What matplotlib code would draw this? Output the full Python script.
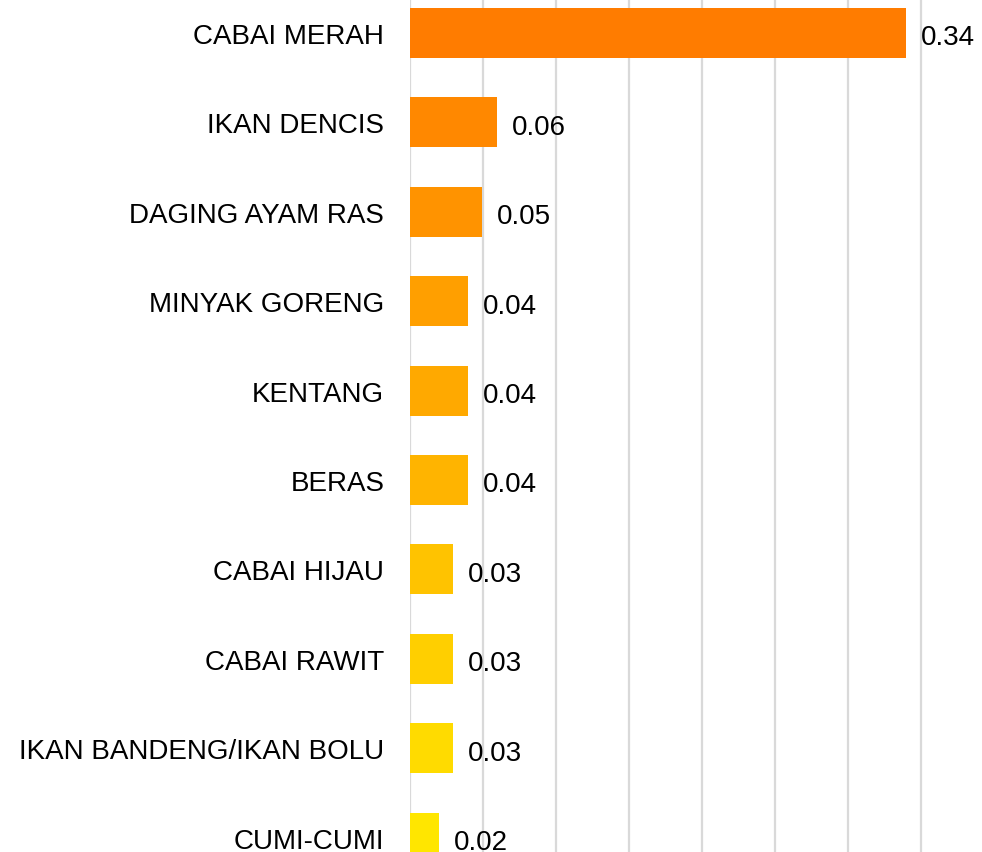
import matplotlib

matplotlib.use("Agg")
import matplotlib.pyplot as plt
import numpy as np

plt.rcParams["font.family"] = ["Liberation Sans", "DejaVu Sans"]

categories = [
    "CABAI MERAH",
    "IKAN DENCIS",
    "DAGING AYAM RAS",
    "MINYAK GORENG",
    "KENTANG",
    "BERAS",
    "CABAI HIJAU",
    "CABAI RAWIT",
    "IKAN BANDENG/IKAN BOLU",
    "CUMI-CUMI",
]
values = [0.34, 0.0596, 0.0492, 0.0398, 0.0398, 0.0398, 0.0296, 0.0296, 0.0296, 0.02]
labels = ["0.34", "0.06", "0.05", "0.04", "0.04", "0.04", "0.03", "0.03", "0.03", "0.02"]
colors = [
    "#FF7C00", "#FF8800", "#FF9300", "#FF9F00", "#FFA900",
    "#FFB400", "#FFC300", "#FFCF00", "#FFDB00", "#FFE600",
]

W, H = 982, 853
fig = plt.figure(figsize=(W / 100, H / 100), dpi=100)
fig.patch.set_facecolor("white")
ax = fig.add_axes([410 / W, 0, 1 - 410 / W, 1])

y = np.arange(len(categories))
ax.barh(y, values, height=0.56, color=colors, zorder=3)

ax.set_xlim(0, (W - 410) / 1459)
ax.set_ylim((H - 34) / 89.4, -34 / 89.4)

ax.set_xticks(np.arange(0, 0.40, 0.05))
ax.xaxis.grid(True, color="#D9D9D9", linewidth=1.6, zorder=0)
ax.set_xticklabels([])
ax.tick_params(axis="x", length=0)

ax.set_yticks(y)
ax.set_yticklabels(categories, fontsize=20, color="#000000")
ax.tick_params(axis="y", length=0, pad=18.5)

for spine in ax.spines.values():
    spine.set_visible(False)

for yi, v, lab in zip(y, values, labels):
    ax.text(v + 15 / 1459, yi + 0.05, lab, va="center", ha="left", fontsize=20, color="#000000", zorder=4)

fig.savefig("out.png", dpi=100)
